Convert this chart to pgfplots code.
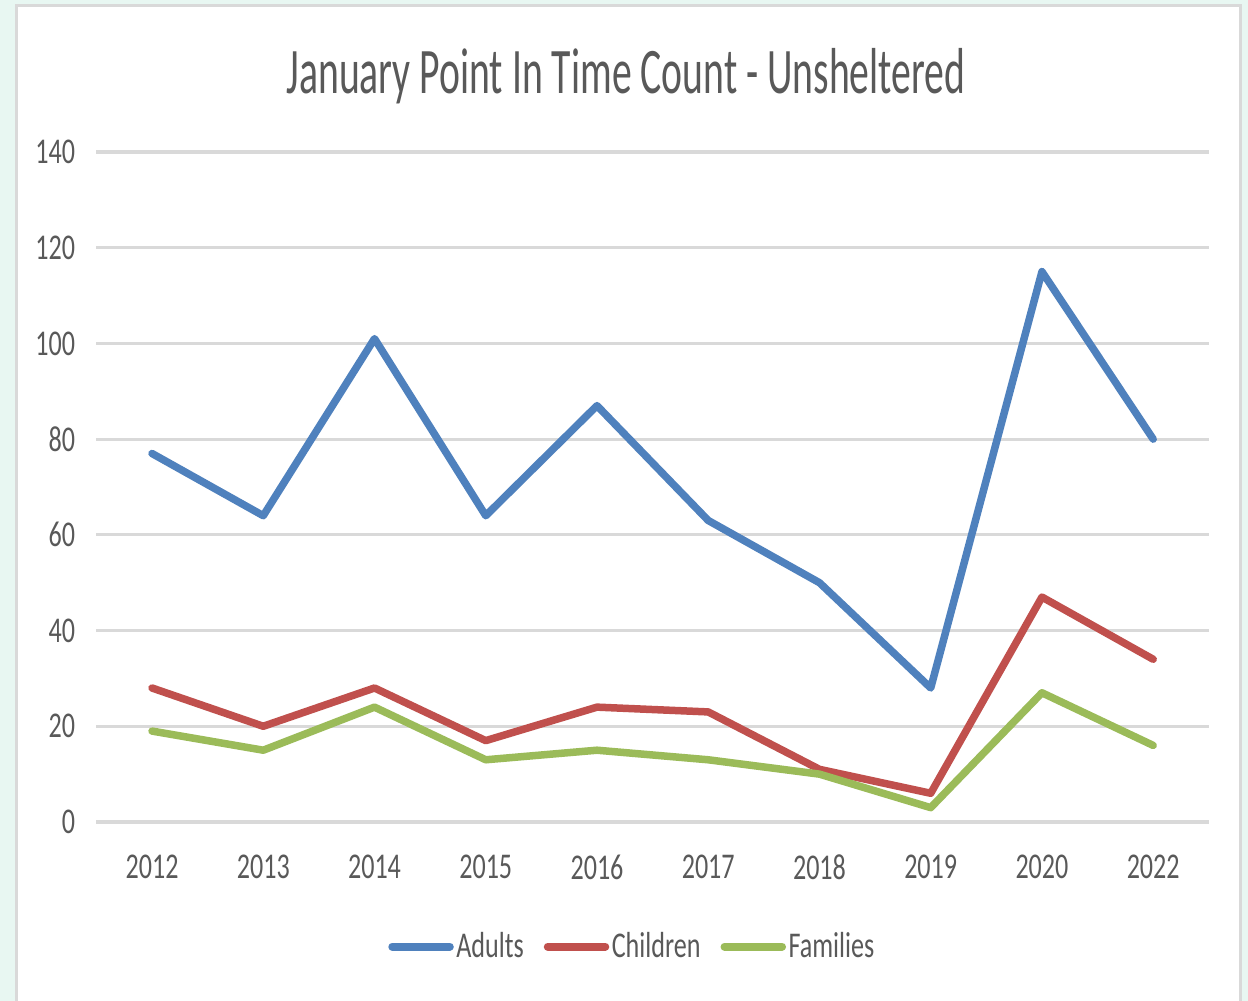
\documentclass[border=0pt]{standalone}
\usepackage{fontspec}
\setmainfont[FakeStretch=0.72]{Carlito}
\newfontfamily\titlefont[FakeStretch=0.61]{Carlito}
\usepackage{pgfplots}
\pgfplotsset{compat=1.18}
\definecolor{adults}{HTML}{4F81BD}
\definecolor{children}{HTML}{C0504D}
\definecolor{families}{HTML}{9BBB59}
\definecolor{gridgray}{HTML}{D9D9D9}
\definecolor{txtgray}{HTML}{595959}
\definecolor{mint}{HTML}{E8F7F2}

\begin{document}
\begin{tikzpicture}[x=1pt,y=1pt]
  \useasboundingbox (0,0) rectangle (499.2,400.4);
  \clip (0,0) rectangle (499.2,400.4);
  \fill[mint] (0,0) rectangle (499.2,400.4);
  \filldraw[fill=white,draw=gridgray,line width=1.2pt] (6.4,-5) rectangle (496,398.2);

  \node[text=txtgray,font=\titlefont\fontsize{26}{30}\selectfont] at (250.4,370)
    {January Point In Time Count - Unsheltered};

  \begin{axis}[
    at={(38.56pt,71.6pt)}, anchor=south west,
    scale only axis, width=444.96pt, height=268pt,
    xmin=-0.5, xmax=9.5, ymin=0, ymax=140,
    xtick={0,...,9},
    xticklabels={2012,2013,2014,2015,2016,2017,2018,2019,2020,2022},
    ytick={0,20,...,140},
    axis line style={draw=none},
    major tick length=0pt,
    ymajorgrids, grid style={gridgray,line width=1.3pt},
    tick label style={text=txtgray,font=\fontsize{14.5}{16}\selectfont},
    /pgf/number format/assume math mode=true,
    xticklabel style={yshift=-9.5pt},
    yticklabel style={xshift=-5pt},
    clip=false,
    legend style={at={(0.482,-0.186)}, anchor=center, draw=none, fill=none,
      font=\fontsize{14.5}{16}\selectfont, text=txtgray,
      nodes={inner sep=1pt},
      /tikz/every even column/.append style={column sep=7pt},
      /tikz/every odd column/.append style={column sep=0pt}},
    legend columns=3,
    legend image code/.code={\draw[#1,line width=3.2pt,line cap=round] (0pt,0pt) -- (23pt,0pt);},
    every axis plot/.append style={line width=3pt, line join=round, line cap=round},
  ]
    \addplot[adults] coordinates {
      (0,77) (1,64) (2,101) (3,64) (4,87) (5,63) (6,50) (7,28) (8,115) (9,80)};
    \addlegendentry{Adults}
    \addplot[children] coordinates {
      (0,28) (1,20) (2,28) (3,17) (4,24) (5,23) (6,11) (7,6) (8,47) (9,34)};
    \addlegendentry{Children}
    \addplot[families] coordinates {
      (0,19) (1,15) (2,24) (3,13) (4,15) (5,13) (6,10) (7,3) (8,27) (9,16)};
    \addlegendentry{Families}
  \end{axis}
\end{tikzpicture}
\end{document}
